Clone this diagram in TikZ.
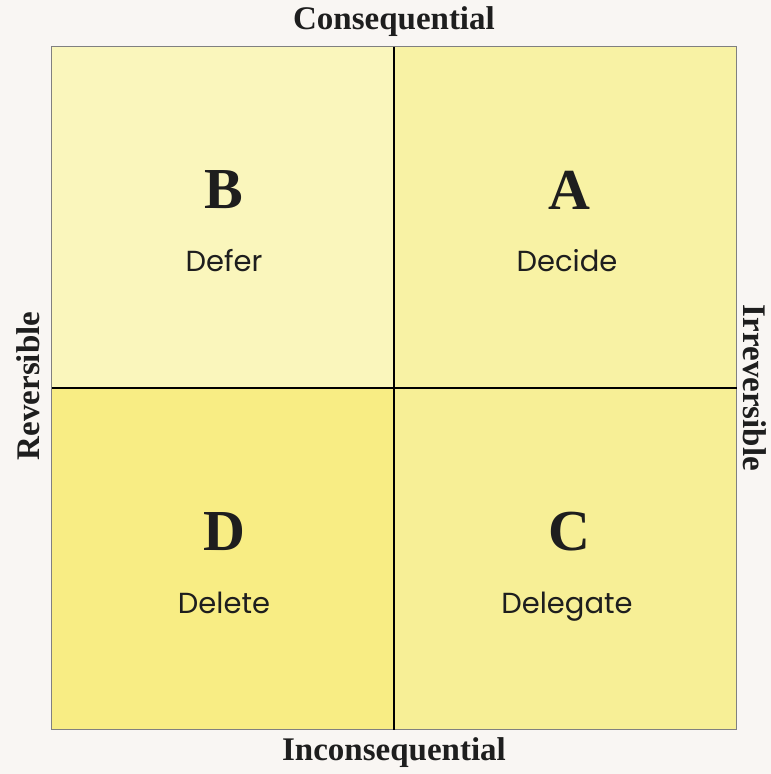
\documentclass[tikz,border=0pt]{standalone}
\usepackage{fontspec}
\setmainfont{Liberation Serif}
\newfontfamily\wordfont{Poppins}

\definecolor{pagecol}{HTML}{F9F6F3}
\definecolor{colA}{HTML}{F8F2A4}
\definecolor{colB}{HTML}{FAF6BC}
\definecolor{colC}{HTML}{F7EF96}
\definecolor{colD}{HTML}{F8ED84}
\definecolor{inkcol}{HTML}{1E1E1E}

\tikzset{
  quad/.style={draw=none, inner sep=0pt, minimum width=342pt, minimum height=341pt},
  letter/.style={text=inkcol, font=\fontsize{58}{60}\selectfont\bfseries},
  word/.style={anchor=base, text=inkcol, font=\wordfont\fontsize{29}{32}\selectfont},
  axis/.style={text=inkcol, font=\fontsize{33}{36}\selectfont\bfseries}
}

\begin{document}
\begin{tikzpicture}[x=1pt, y=1pt]
            \fill[pagecol] (0,0) rectangle (771,774);

            \node[quad, fill=colB] (qb) at (223, 556.5){};
            \node[quad, fill=colA] (qa) at (565.5, 556.5){};
            \node[quad, fill=colD] (qd) at (223, 215){};
            \node[quad, fill=colC] (qc) at (565.5, 215){};

            \node[letter] (lb) at (224, 584){B};
            \node[letter] (la) at (569, 584){A};
            \node[letter] (ld) at (224, 242){D};
            \node[letter] (lc) at (569, 242){C};

            \node[word] (wb) at (224, 502){Defer};
            \node[word] (wa) at (567, 502){Decide};
            \node[word] (wd) at (224, 160){Delete};
            \node[word] (wc) at (567, 160){Delegate};

            \draw[line width=0.8pt, draw=gray] (qb.north west) rectangle (qc.south east);
            \draw[line width=2pt, draw=black] (qa.north west) -- (qc.south west);
            \draw[line width=2pt, draw=black] (qb.south west) -- (qa.south east);

            \node[axis] (top) at (394, 752){Consequential};
            \node[axis] (bottom) at (394, 21){Inconsequential};
            \node[axis, rotate=90] (left) at (28, 388){Reversible};
            \node[axis, rotate=-90] (right) at (755, 386){Irreversible};
        \end{tikzpicture}
\end{document}
